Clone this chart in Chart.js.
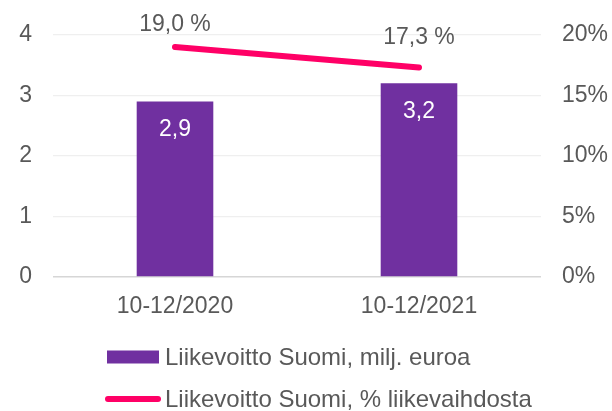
<!DOCTYPE html>
<html><head><meta charset="utf-8">
<script src="https://cdn.jsdelivr.net/npm/chart.js@4/dist/chart.umd.min.js"></script>
<style>html,body{margin:0;padding:0;background:#fff}#wrap{width:612px;height:411px;position:relative}</style>
</head><body><div id="wrap"><canvas id="c"></canvas></div>
<script>
const categories = ['10-12/2020', '10-12/2021'];
const profitMeur = [2.9, 3.2];
const profitPct = [19.0, 17.3];
const leftTicks = [0, 1, 2, 3, 4];
const rightTicks = [0, 5, 10, 15, 20];
const seriesNames = ['Liikevoitto Suomi, milj. euroa', 'Liikevoitto Suomi, % liikevaihdosta'];

const PURPLE = '#7030A0', PINK = '#FF0066', TXT = '#595959';
const FONT = '"Liberation Sans", Arial, sans-serif';
Chart.defaults.font.family = FONT;
Chart.defaults.font.size = 23;
Chart.defaults.color = TXT;

const fmt = v => v.toFixed(1).replace('.', ',');

const labelPlugin = {
  id: 'valueLabels',
  afterDatasetsDraw(chart) {
    const ctx = chart.ctx;
    ctx.save();
    ctx.font = '23px ' + FONT;
    ctx.textAlign = 'center';
    ctx.textBaseline = 'middle';
    const barMeta = chart.getDatasetMeta(0);
    barMeta.data.forEach((el, i) => {
      ctx.fillStyle = '#FFFFFF';
      ctx.fillText(fmt(profitMeur[i]), el.x, el.y + 28);
    });
    const lineMeta = chart.getDatasetMeta(1);
    const offs = [22, 30];
    lineMeta.data.forEach((el, i) => {
      ctx.fillStyle = TXT;
      ctx.fillText(fmt(profitPct[i]) + ' %', el.x, el.y - offs[i]);
    });
    ctx.restore();
  }
};

const legendPlugin = {
  id: 'customLegend',
  afterDraw(chart) {
    const ctx = chart.ctx;
    ctx.save();
    ctx.font = '24px ' + FONT;
    ctx.textAlign = 'left';
    ctx.textBaseline = 'middle';
    const rows = [357, 399];
    chart.data.datasets.forEach((ds, i) => {
      const y = rows[i];
      if (ds.type === 'line') {
        ctx.strokeStyle = ds.borderColor;
        ctx.lineWidth = 6;
        ctx.lineCap = 'round';
        ctx.beginPath();
        ctx.moveTo(108, y);
        ctx.lineTo(158, y);
        ctx.stroke();
      } else {
        ctx.fillStyle = ds.backgroundColor;
        ctx.fillRect(107, y - 6.5, 52, 13);
      }
      ctx.fillStyle = TXT;
      ctx.fillText(ds.label, 165, y + 1);
    });
    ctx.restore();
  }
};

new Chart(document.getElementById('c'), {
  data: {
    labels: categories,
    datasets: [
      { type: 'bar', label: seriesNames[0], data: profitMeur, backgroundColor: PURPLE,
        yAxisID: 'y', order: 1, barPercentage: 0.314, categoryPercentage: 1 },
      { type: 'line', label: seriesNames[1], data: profitPct, borderColor: PINK, backgroundColor: PINK,
        borderWidth: 6, borderCapStyle: 'round', pointRadius: 0, yAxisID: 'y1', order: 0, tension: 0 }
    ]
  },
  options: {
    responsive: true,
    maintainAspectRatio: false,
    animation: false,
    layout: { padding: { top: 32, right: 0, bottom: 84, left: 0 } },
    plugins: { legend: { display: false }, tooltip: { enabled: false } },
    scales: {
      x: {
        offset: true,
        grid: { display: false, drawTicks: false },
        border: { display: false },
        ticks: { padding: 16, color: TXT, font: { size: 23 } },
        afterFit: s => { s.height = 50; }
      },
      y: {
        position: 'left', min: 0, max: 4,
        afterBuildTicks: s => { s.ticks = leftTicks.map(v => ({ value: v })); },
        grid: { color: c => c.tick && c.tick.value === 0 ? '#D6D6D6' : '#EFEFEF', lineWidth: c => c.tick && c.tick.value === 0 ? 1.5 : 1.2, drawTicks: false },
        border: { display: false },
        ticks: { padding: 21, color: TXT, font: { size: 23 } },
        afterFit: s => { s.width = 53; }
      },
      y1: {
        position: 'right', min: 0, max: 20,
        afterBuildTicks: s => { s.ticks = rightTicks.map(v => ({ value: v })); },
        grid: { display: false, drawTicks: false },
        border: { display: false },
        ticks: { padding: 21, color: TXT, font: { size: 23 }, callback: v => v + '%' },
        afterFit: s => { s.width = 71; }
      }
    }
  },
  plugins: [labelPlugin, legendPlugin]
});
</script>
</body></html>
